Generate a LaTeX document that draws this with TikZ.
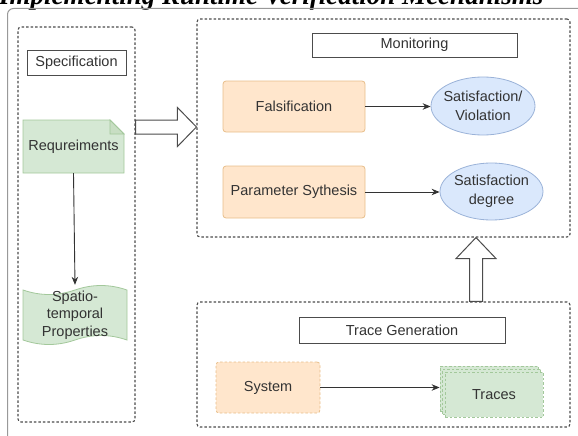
\documentclass[tikz,border=0pt]{standalone}
\usepackage{fontspec}
\setmainfont{Liberation Sans}
\newfontfamily\titlefont{Liberation Serif}
\usetikzlibrary{arrows.meta,shapes.geometric,calc,backgrounds}
\definecolor{orFill}{HTML}{FFE6CC}
\definecolor{orDraw}{HTML}{E8BE8A}
\definecolor{grFill}{HTML}{D5E8D4}
\definecolor{grDraw}{HTML}{A3C89B}
\definecolor{blFill}{HTML}{DAE8FC}
\definecolor{blDraw}{HTML}{9AB2D8}
\begin{document}
\begin{tikzpicture}[x=1pt,y=-1pt,
  every node/.style={font=\fontsize{14.5}{17.5}\selectfont, text=black!80, inner sep=0pt},
  grp/.style={draw=black!70, line width=1.1pt, dash pattern=on 2.5pt off 2pt, rounded corners=3pt},
  ttl/.style={draw=black!70, line width=0.9pt, fill=white},
  orbox/.style={fill=orFill, draw=orDraw, line width=0.8pt, rounded corners=3pt},
  ell/.style={ellipse, fill=blFill, draw=blDraw, line width=0.8pt},
  elltext/.style={align=center, font=\fontsize{14.5}{19}\selectfont},
  trl/.style={fill=grFill, draw=grDraw, line width=0.8pt, dash pattern=on 2.5pt off 2pt, minimum width=98pt, minimum height=45pt},
  conn/.style={draw=black!80, line width=0.9pt, -{Stealth[length=8pt,width=6.5pt]}},
  hollow/.style={draw=black!70, line width=1pt, fill=white, line join=miter},
]
\useasboundingbox (0,0) rectangle (578,436);
\clip (0,0) rectangle (578,436);

% title (cut by the top edge)
\node[anchor=base west, text=black] (title) at (-1,4.5)
  {\resizebox{544pt}{!}{\titlefont\bfseries\itshape Implementing Runtime Verification Mechanisms}};

% outer frame
\node[draw=black!40, line width=1pt, rounded corners=6pt, minimum width=600pt,
      minimum height=450pt, anchor=north west] (frame) at (7,8) {};

% groups
\node[grp, minimum width=117pt, minimum height=395pt] (spec) at (76.5,224.5) {};
\node[grp, minimum width=373pt, minimum height=218pt] (mon) at (383.5,128) {};
\node[grp, minimum width=373pt, minimum height=125pt] (trg) at (383.5,364.5) {};

% group titles
\node[ttl, minimum width=99pt, minimum height=25pt] (specT) at (76.5,62.5) {Specification};
\node[ttl, minimum width=205pt, minimum height=24pt] (monT) at (414.5,45) {Monitoring};
\node[ttl, minimum width=206pt, minimum height=26pt] (trgT) at (402,330) {Trace Generation};

% specification contents
\node[minimum width=101pt, minimum height=53pt] (req) at (73.5,146.5) {Requreiments};
\node[minimum width=104pt, minimum height=60pt, align=center] (sp) at (75,315)
  {Spatio-\\temporal\\Properties};
\begin{scope}[on background layer]
  \begin{scope}[shift={(req.center)}]
    \path[fill=grFill, draw=grDraw, line width=0.8pt]
      (-50.5,-26.5) -- (36.5,-26.5) -- (50.5,-12.5) -- (50.5,26.5) -- (-50.5,26.5) -- cycle;
    \draw[grDraw, line width=0.8pt, fill=grDraw!60] (36.5,-26.5) -- (36.5,-12.5) -- (50.5,-12.5) -- cycle;
  \end{scope}
  \begin{scope}[shift={(sp.center)}]
    \path[fill=grFill, draw=grDraw, line width=0.8pt]
      (-52,-25) .. controls (-34.67,-19) and (-17.33,-19) .. (0,-25)
      .. controls (17.33,-31) and (34.67,-31) .. (52,-25)
      -- (52,25) .. controls (34.67,19) and (17.33,19) .. (0,25)
      .. controls (-17.33,31) and (-34.67,31) .. (-52,25) -- cycle;
  \end{scope}
\end{scope}

% monitoring contents
\node[orbox, minimum width=142pt, minimum height=51pt] (fal) at (294,106.5) {Falsification};
\node[orbox, minimum width=142pt, minimum height=52pt] (par) at (294,192) {Parameter Sythesis};
\node[ell, minimum width=104pt, minimum height=58pt,
      label={[elltext]center:Satisfaction/\\Violation}] (sv) at (483,106) {};
\node[ell, minimum width=103pt, minimum height=57pt,
      label={[elltext]center:Satisfaction\\degree}] (sd) at (491.5,191.5) {};

% trace generation contents
\node[orbox, dash pattern=on 2.5pt off 2pt, minimum width=104pt, minimum height=51pt] (sys) at (268,387.5) {System};
\node[trl] (tr3) at (489,388.5) {};
\node[trl] (tr2) at (491.5,391.5) {};
\node[trl] (traces) at (494,394.5) {Traces};

% connectors
\draw[conn] (req.south) -- (sp.north);
\draw[conn] (fal.east) -- (sv.west |- fal.east);
\draw[conn] (par.east) -- (sd.west |- par.east);
\draw[conn] (sys.east) -- (tr3.west |- sys.east);

% hollow arrows
\coordinate (r1) at ($(spec.east)+(0,-97.5)$);
\coordinate (r2) at ($(mon.west)+(0,-1)$);
\draw[hollow] ($(r1)+(0,-7)$) -- ($(r2)+(-19,-7)$) -- ($(r2)+(-19,-19.5)$) -- (r2)
  -- ($(r2)+(-19,19.5)$) -- ($(r2)+(-19,7)$) -- ($(r1)+(0,7)$) -- cycle;
\coordinate (u1) at ($(trg.north)+(92.5,0)$);
\coordinate (u2) at ($(mon.south)+(92.5,0)$);
\draw[hollow] ($(u1)+(-6.5,0)$) -- ($(u2)+(-6.5,21)$) -- ($(u2)+(-20,21)$) -- (u2)
  -- ($(u2)+(20,21)$) -- ($(u2)+(6.5,21)$) -- ($(u1)+(6.5,0)$) -- cycle;
\end{tikzpicture}
\end{document}
